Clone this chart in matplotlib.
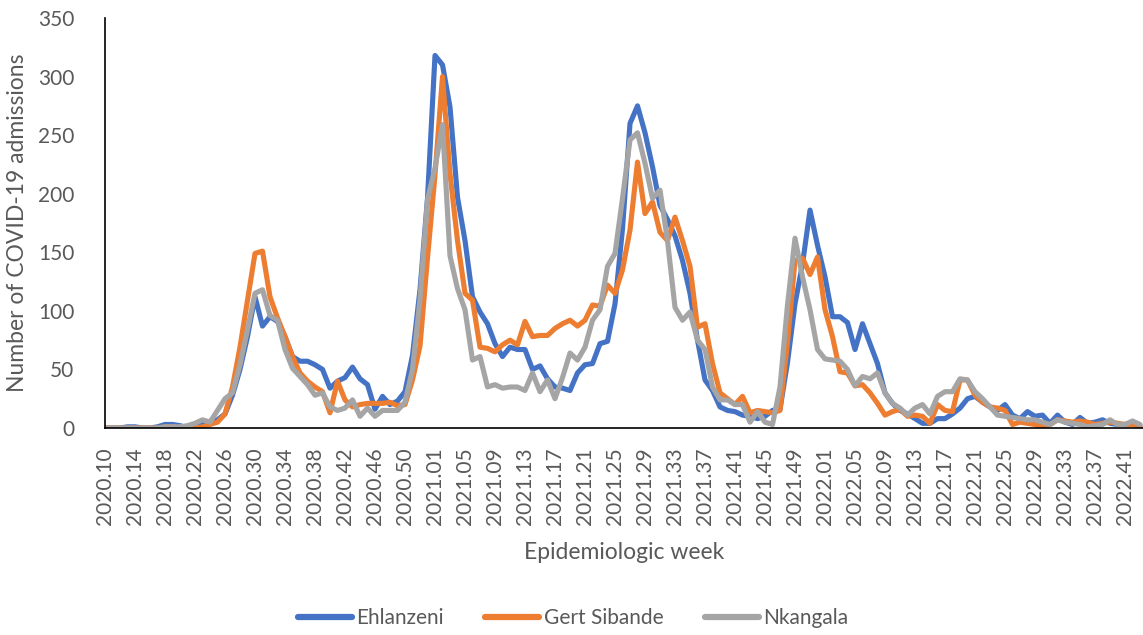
import matplotlib.pyplot as plt

# epidemiologic weeks 2020.10 .. 2022.43 (2020 has 53 weeks)
weeks = ([f"2020.{w:02d}" for w in range(10, 54)]
         + [f"2021.{w:02d}" for w in range(1, 53)]
         + [f"2022.{w:02d}" for w in range(1, 44)])

ehlanzeni = [0, 0, 0, 1, 1, 0, 0, 1, 3, 3, 2, 0, 1,
             4, 5, 7, 12, 28, 50, 78, 112, 87, 95, 91, 78, 61, 57, 57, 54, 50,
             34, 40, 43, 52, 42, 37, 16, 27, 20, 23, 31, 62, 118, 196, 318, 310,
             274, 197, 160, 112, 99, 89, 72, 61, 69, 67, 67, 50, 53, 42, 35, 34,
             32, 47, 54, 55, 72, 74, 106, 170, 260, 275, 252, 223, 190, 178, 164,
             143, 115, 75, 41, 32, 18, 15, 14, 11, 10, 8, 10, 15, 16, 56, 106,
             140, 186, 156, 129, 95, 95, 90, 67, 89, 72, 55, 30, 21, 15, 12, 8,
             4, 4, 8, 8, 12, 17, 25, 27, 22, 18, 15, 20, 11, 8, 14, 10, 11, 4,
             11, 5, 3, 9, 4, 5, 7, 4, 3, 3, 4, 1]

gert_sibande = [0, 0, 0, 0, 0, 0, 0, 0, 1, 1, 0, 0, 0,
                1, 3, 5, 12, 35, 69, 109, 149, 151, 112, 94, 78, 61, 47, 40, 35,
                31, 13, 40, 24, 18, 20, 21, 21, 21, 22, 19, 20, 41, 70, 145, 216,
                300, 217, 160, 115, 109, 69, 68, 65, 71, 75, 71, 91, 78, 79, 79,
                85, 89, 92, 87, 92, 105, 104, 122, 115, 135, 169, 227, 183, 193,
                167, 160, 180, 160, 138, 86, 89, 55, 30, 25, 20, 27, 13, 15, 14,
                13, 15, 73, 143, 145, 131, 146, 101, 78, 48, 47, 36, 37, 30, 21,
                11, 14, 16, 10, 11, 10, 4, 20, 15, 14, 41, 41, 28, 22, 18, 17, 15,
                3, 5, 4, 3, 1, 3, 7, 6, 5, 6, 5, 3, 4, 5, 4, 3, 3, 2]

nkangala = [0, 0, 0, 0, 0, 0, 0, 0, 1, 1, 1, 2, 4,
            7, 5, 15, 25, 30, 54, 84, 115, 118, 96, 92, 67, 51, 44, 37, 28, 30,
            18, 15, 17, 24, 10, 17, 10, 15, 15, 15, 22, 50, 110, 195, 222, 259,
            147, 119, 101, 58, 61, 35, 37, 34, 35, 35, 32, 47, 31, 41, 25, 43,
            64, 58, 69, 92, 101, 138, 149, 196, 246, 252, 226, 196, 203, 160,
            103, 92, 99, 75, 67, 35, 24, 24, 20, 20, 5, 14, 5, 3, 35, 105, 162,
            129, 101, 67, 59, 58, 57, 50, 36, 44, 42, 47, 30, 21, 17, 11, 17,
            20, 12, 27, 31, 31, 42, 41, 31, 25, 18, 11, 10, 9, 8, 7, 7, 5, 3, 7,
            5, 4, 3, 1, 2, 3, 7, 3, 3, 6, 3]

names = ["Ehlanzeni", "Gert Sibande", "Nkangala"]
colors = ["#4472C4", "#ED7D31", "#A5A5A5"]

plt.rcParams['font.family'] = ['Lato', 'DejaVu Sans']
text_col = "#595959"

fig = plt.figure(figsize=(11.43, 6.35), dpi=100)
ax = fig.add_axes([105 / 1143, 1 - 428 / 635, 1 - 105 / 1143, 410 / 635])

x = list(range(len(weeks)))
for series, name, col in zip([ehlanzeni, gert_sibande, nkangala], names, colors):
    ax.plot(x, series, color=col, lw=3.7, label=name, solid_capstyle='round',
            solid_joinstyle='round')

ax.set_xlim(0, 138.4)
ax.set_ylim(0, 350)
ax.set_yticks(range(0, 351, 50))
ax.set_xticks(x[::4])
ax.set_xticklabels(weeks[::4], rotation=90)
ax.tick_params(axis='both', length=0, labelsize=15, labelcolor=text_col)
ax.tick_params(axis='x', pad=14)
ax.tick_params(axis='y', pad=22)

for s in ['top', 'right']:
    ax.spines[s].set_visible(False)
for s in ['left', 'bottom']:
    ax.spines[s].set_color('black')
    ax.spines[s].set_linewidth(1.2)

ax.set_xlabel("Epidemiologic week", fontsize=16.5, color=text_col, labelpad=12)
ax.set_ylabel("Number of COVID-19 admissions", fontsize=16.5, color=text_col)
ax.yaxis.set_label_coords(-0.074, 0.5)

leg = fig.legend(loc='center', bbox_to_anchor=(573 / 1143, 1 - 618 / 635), ncol=3,
                 frameon=False, fontsize=15, handlelength=2.6, handletextpad=0.2,
                 columnspacing=2.0)
for line in leg.get_lines():
    line.set_linewidth(4.5)
for t in leg.get_texts():
    t.set_color(text_col)

fig.savefig("out.png", dpi=100)
